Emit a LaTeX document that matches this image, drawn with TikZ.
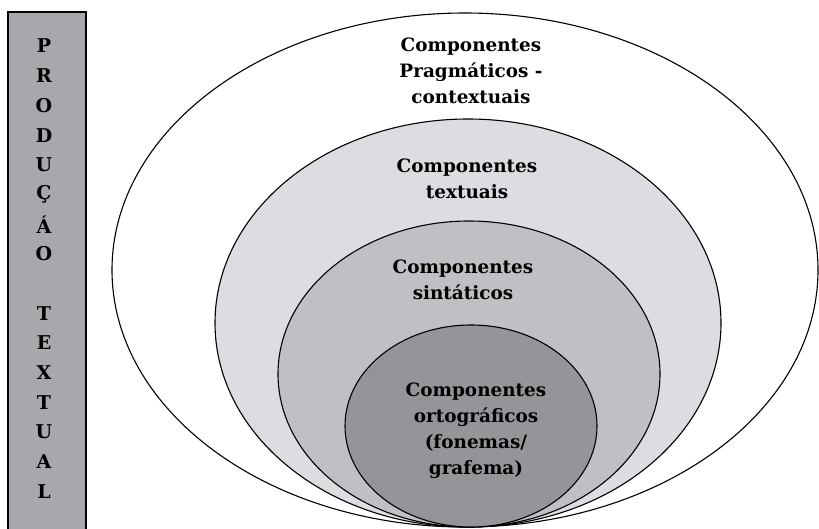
\documentclass[tikz,border=0pt]{standalone}
\usepackage{fontspec}
\setmainfont{DejaVu Serif}
\usetikzlibrary{shapes.geometric}
\definecolor{boxgray}{HTML}{A7A8AC}
\definecolor{textgray}{HTML}{DCDDE0}
\definecolor{syngray}{HTML}{BFC0C3}
\definecolor{orthgray}{HTML}{949599}
\tikzset{
  % one nested level of the diagram
  layer/.style={ellipse, draw=black, line width=1.1pt, inner sep=0pt},
  lbl/.style={font=\bfseries\fontsize{18.4}{26}\selectfont, align=center},
  letter/.style={font=\bfseries\fontsize{19}{20}\selectfont, inner sep=0pt},
}
\begin{document}
\begin{tikzpicture}[x=1pt,y=-1pt]
    \useasboundingbox (0,0) rectangle (819,528);

    % side bar
    \draw[fill=boxgray, line width=1.2pt] (8,12) rectangle (86,532);
    \foreach \l [count=\i] in {P,R,O,D,U,Ç,Á,O,,T,E,X,T,U,A,L}
    {
    \node[letter] (bar\i) at (44, 46 + 29.7*\i - 29.7) {\l};
    }

    % nested ellipses
    \node[layer, fill=white, minimum width=706pt, minimum height=514pt] (prag) at (465,270) {};
    \node[layer, fill=textgray, minimum width=506pt, minimum height=408pt] (text) at (468,323) {};
    \node[layer, fill=syngray, minimum width=382pt, minimum height=306pt] (sint) at (469,374) {};
    \node[layer, fill=orthgray, minimum width=252pt, minimum height=202pt] (orto) at (471,426) {};

    \node[lbl] (lprag) at (471,71) {Componentes\\Pragmáticos -\\contextuais};
    \node[lbl] (ltext) at (467,179) {Componentes\\textuais};
    \node[lbl] (lsint) at (463,280) {Componentes\\sintáticos};
    \node[lbl] (lorto) at (476,431) {Componentes\\ortográficos\\(fonemas/\\grafema)};
\end{tikzpicture}
\end{document}
